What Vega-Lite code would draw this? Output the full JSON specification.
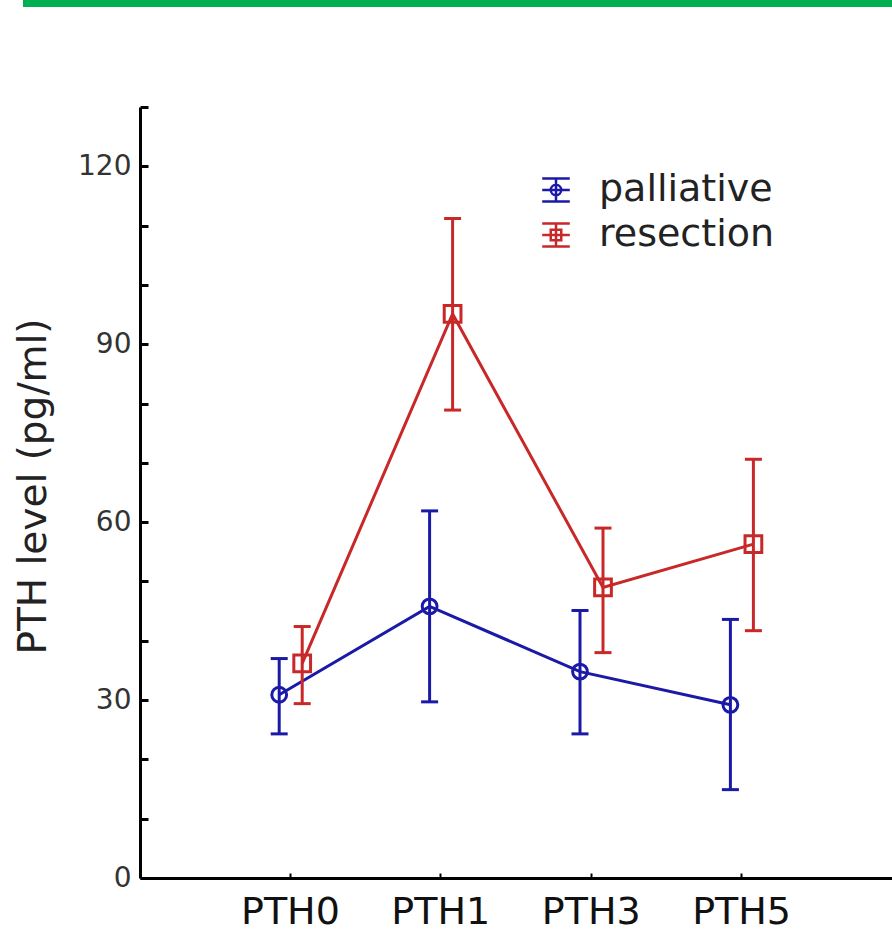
{
  "$schema": "https://vega.github.io/schema/vega-lite/v6.json",
  "padding": {"left": 14, "top": 0, "right": 0, "bottom": 0},
  "spacing": 98,
  "center": true,
  "config": {
    "view": {"stroke": null},
    "font": "DejaVu Sans",
    "axisY": {"labelFontSize": 28, "labelColor": "#333", "labelPadding": 17, "labelFlush": false, "titleFontSize": 39, "titleColor": "#222", "titleFontWeight": "normal", "titlePadding": 24, "titleY": 379}
  },
  "datasets": {
    "pth": [
      {"time": "PTH0", "group": "palliative", "mean": 30.9, "lo": 24.3, "hi": 37.0},
      {"time": "PTH1", "group": "palliative", "mean": 45.8, "lo": 29.7, "hi": 61.9},
      {"time": "PTH3", "group": "palliative", "mean": 34.8, "lo": 24.3, "hi": 45.1},
      {"time": "PTH5", "group": "palliative", "mean": 29.2, "lo": 14.9, "hi": 43.6},
      {"time": "PTH0", "group": "resection", "mean": 36.2, "lo": 29.4, "hi": 42.4},
      {"time": "PTH1", "group": "resection", "mean": 95.1, "lo": 78.9, "hi": 111.2},
      {"time": "PTH3", "group": "resection", "mean": 49.0, "lo": 38.0, "hi": 59.0},
      {"time": "PTH5", "group": "resection", "mean": 56.3, "lo": 41.7, "hi": 70.6}
    ],
    "bar": [{"a": 0, "b": 1, "c": 0, "d": 1}]
  },
  "vconcat": [
    {
      "width": 986,
      "height": 7,
      "data": {"name": "bar"},
      "mark": {"type": "rect", "color": "#00b050"},
      "encoding": {
        "x": {"field": "a", "type": "quantitative", "axis": null, "scale": {"domain": [0, 1], "nice": false}},
        "x2": {"field": "b"},
        "y": {"field": "c", "type": "quantitative", "axis": null, "scale": {"domain": [0, 1], "nice": false}},
        "y2": {"field": "d"}
      }
    },
    {
      "width": 752,
      "height": 771,
      "data": {"name": "pth"},
      "encoding": {
        "x": {
          "field": "time", "type": "nominal", "sort": ["PTH0", "PTH1", "PTH3", "PTH5"], "title": null,
          "scale": {"type": "band", "paddingInner": 0, "paddingOuter": 0.5},
          "axis": {"labelAngle": 0, "labelFontSize": 38, "labelColor": "#111", "tickSize": -5, "tickWidth": 2, "tickColor": "black", "domainWidth": 3, "domainColor": "black", "labelPadding": 20}
        },
        "xOffset": {"field": "group", "type": "nominal", "scale": {"type": "point", "domain": ["palliative", "resection"], "range": [64, 87], "padding": 0}},
        "color": {"field": "group", "type": "nominal", "scale": {"domain": ["palliative", "resection"], "range": ["#1a1aa6", "#c82828"]}}
      },
      "layer": [
        {
          "mark": {"type": "point", "opacity": 0, "filled": false},
          "encoding": {
            "y": {
              "field": "mean", "type": "quantitative", "title": "PTH level (pg/ml)",
              "scale": {"domain": [0, 130], "nice": false},
              "axis": {
                "values": [0, 10, 20, 30, 40, 50, 60, 70, 80, 90, 100, 110, 120, 130],
                "labelExpr": "datum.value % 30 === 0 ? datum.label : ''",
                "grid": false, "domainColor": "black", "domainWidth": 3, "tickColor": "black", "tickWidth": 3, "tickSize": -8
              }
            },
            "color": {
              "field": "group", "type": "nominal",
              "legend": {
                "title": null, "orient": "none", "legendX": 514, "legendY": 171,
                "labelFontSize": 38, "labelColor": "#222", "labelLimit": 400, "symbolSize": 760,
                "rowPadding": 7, "labelOffset": 24, "symbolFillColor": "transparent", "symbolOpacity": 1, "symbolStrokeWidth": 2.5,
                "encode": {"symbols": {"update": {"fill": {"value": "transparent"}, "opacity": {"value": 1}, "strokeWidth": {"value": 2.5}}}}
              }
            },
            "shape": {
              "field": "group", "type": "nominal",
              "scale": {"domain": ["palliative", "resection"], "range": [
                "M-1,-0.83H1M-1,0H1M-1,0.83H1M0,-0.83V0.83M0.38,0A0.38,0.38,0,1,1,-0.38,0A0.38,0.38,0,1,1,0.38,0",
                "M-1,-0.83H1M-1,0H1M-1,0.83H1M0,-0.83V0.83M-0.38,-0.38H0.38V0.38H-0.38Z"
              ]}
            }
          }
        },
        {
          "mark": {"type": "line", "strokeWidth": 3},
          "encoding": {"y": {"field": "mean", "type": "quantitative"}}
        },
        {
          "mark": {"type": "rule", "strokeWidth": 3},
          "encoding": {"y": {"field": "lo", "type": "quantitative"}, "y2": {"field": "hi"}}
        },
        {
          "mark": {"type": "point", "shape": "stroke", "size": 289, "strokeWidth": 3, "filled": false, "opacity": 1},
          "encoding": {"y": {"field": "lo", "type": "quantitative"}}
        },
        {
          "mark": {"type": "point", "shape": "stroke", "size": 289, "strokeWidth": 3, "filled": false, "opacity": 1},
          "encoding": {"y": {"field": "hi", "type": "quantitative"}}
        },
        {
          "transform": [{"filter": "datum.group === 'palliative'"}],
          "mark": {"type": "point", "shape": "circle", "size": 220, "strokeWidth": 3, "filled": false, "opacity": 1},
          "encoding": {"y": {"field": "mean", "type": "quantitative"}}
        },
        {
          "transform": [{"filter": "datum.group === 'resection'"}],
          "mark": {"type": "point", "shape": "square", "size": 280, "strokeWidth": 3, "filled": false, "opacity": 1},
          "encoding": {"y": {"field": "mean", "type": "quantitative"}}
        }
      ]
    }
  ]
}
